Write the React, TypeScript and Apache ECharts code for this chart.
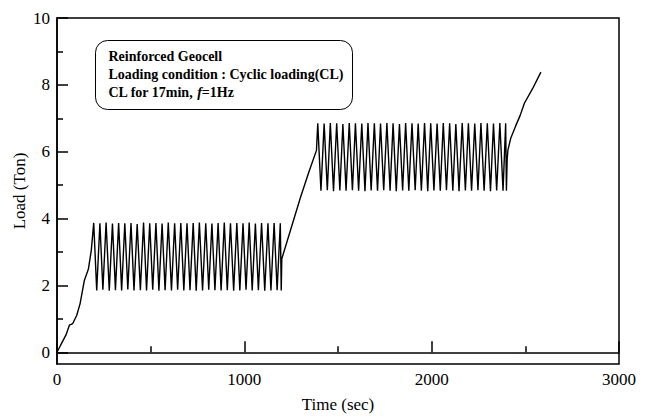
import React, { useEffect, useRef } from "react";
import * as echarts from "echarts";

// Initial monotonic loading up to the first cyclic stage
const ramp1Time = [0, 20, 48, 66, 84, 105, 123, 146, 168, 183];
const ramp1Load = [0, 0.22, 0.52, 0.81, 0.86, 1.1, 1.45, 2.15, 2.5, 3.05];

// First cyclic stage (peak / trough pairs)
const cl1Time = [
  196, 212, 229, 245, 262, 279, 296, 312, 329, 345,
  362, 378, 395, 411, 428, 445, 462, 478, 495, 511,
  528, 544, 561, 577, 594, 611, 628, 644, 661, 677,
  694, 710, 727, 743, 760, 777, 794, 810, 827, 843,
  860, 876, 893, 909, 926, 943, 960, 976, 993, 1009,
  1026, 1042, 1059, 1075, 1092, 1109, 1126, 1142, 1159, 1175,
  1192, 1197,
];
const cl1Load = [
  3.87, 1.85, 3.86, 1.87, 3.88, 1.84, 3.85, 1.86, 3.87, 1.85,
  3.86, 1.88, 3.87, 1.85, 3.84, 1.86, 3.88, 1.85, 3.86, 1.87,
  3.87, 1.84, 3.85, 1.86, 3.88, 1.85, 3.86, 1.87, 3.87, 1.85,
  3.86, 1.86, 3.87, 1.84, 3.88, 1.85, 3.86, 1.87, 3.85, 1.86,
  3.87, 1.85, 3.88, 1.86, 3.86, 1.84, 3.87, 1.85, 3.86, 1.87,
  3.88, 1.85, 3.85, 1.86, 3.87, 1.84, 3.86, 1.85, 3.87, 1.86,
  3.86, 1.85,
];

// Reloading between the two cyclic stages
const ramp2Time = [1200, 1250, 1300, 1345, 1385];
const ramp2Load = [2.8, 3.72, 4.64, 5.4, 6.04];

// Second cyclic stage (peak / trough pairs)
const cl2Time = [
  1392, 1409, 1426, 1443, 1459, 1476, 1493, 1510, 1526, 1543,
  1560, 1577, 1593, 1610, 1627, 1644, 1660, 1677, 1694, 1711,
  1727, 1744, 1761, 1778, 1794, 1811, 1828, 1845, 1861, 1878,
  1895, 1912, 1928, 1945, 1962, 1979, 1995, 2012, 2029, 2046,
  2062, 2079, 2096, 2113, 2129, 2146, 2163, 2180, 2196, 2213,
  2230, 2247, 2263, 2280, 2297, 2314, 2330, 2347, 2364, 2381,
  2395, 2399,
];
const cl2Load = [
  6.85, 4.83, 6.84, 4.85, 6.86, 4.82, 6.85, 4.84, 6.83, 4.83,
  6.86, 4.85, 6.85, 4.83, 6.84, 4.82, 6.86, 4.84, 6.85, 4.83,
  6.84, 4.85, 6.86, 4.83, 6.85, 4.82, 6.83, 4.84, 6.86, 4.83,
  6.85, 4.85, 6.84, 4.83, 6.86, 4.82, 6.85, 4.84, 6.84, 4.83,
  6.86, 4.85, 6.85, 4.83, 6.83, 4.82, 6.86, 4.84, 6.85, 4.83,
  6.84, 4.85, 6.86, 4.83, 6.85, 4.82, 6.84, 4.84, 6.86, 4.83,
  6.85, 4.83,
];

// Final monotonic loading
const ramp3Time = [2403, 2407, 2422, 2449, 2472, 2495, 2540, 2583];
const ramp3Load = [5.76, 6.05, 6.4, 6.78, 7.08, 7.45, 7.9, 8.38];

const yMajorTicks = [0, 2, 4, 6, 8, 10];
const yMinorTicks = [1, 3, 5, 7, 9];

const noteLines = [
  "Reinforced Geocell",
  "Loading condition : Cyclic loading(CL)",
];

const SERIF = '"Liberation Serif", "Times New Roman", serif';

function pairs(t: number[], v: number[]): number[][] {
  return t.map((x, i) => [x, v[i]]);
}

export default function App() {
  const ref = useRef<HTMLDivElement>(null);

  useEffect(() => {
    if (!ref.current) return;
    const chart = echarts.init(ref.current, undefined, { renderer: "svg" });

    const data = [
      ...pairs(ramp1Time, ramp1Load),
      ...pairs(cl1Time, cl1Load),
      ...pairs(ramp2Time, ramp2Load),
      ...pairs(cl2Time, cl2Load),
      ...pairs(ramp3Time, ramp3Load),
    ];

    chart.setOption({
      animation: false,
      backgroundColor: "#fff",
      grid: {
        left: 57,
        right: 30,
        top: 18,
        bottom: 51,
        show: true,
        borderColor: "#000",
        borderWidth: 1.5,
        backgroundColor: "transparent",
      },
      xAxis: {
        type: "value",
        min: 0,
        max: 3000,
        interval: 1000,
        name: "Time (sec)",
        nameLocation: "middle",
        nameGap: 32,
        nameTextStyle: { fontFamily: SERIF, fontSize: 17, color: "#000" },
        axisLine: { show: true, lineStyle: { color: "#000", width: 1.5 } },
        axisTick: { show: true, inside: true, length: 11, lineStyle: { color: "#000", width: 1.5 } },
        minorTick: { show: true, splitNumber: 2, length: 6, lineStyle: { color: "#000", width: 1.5 } },
        axisLabel: {
          fontFamily: SERIF,
          fontSize: 17,
          color: "#000",
          margin: 7,
          formatter: (v: number) => String(v),
        },
        splitLine: { show: false },
      },
      yAxis: [
        {
          type: "value",
          min: -0.35,
          max: 10,
          name: "Load (Ton)",
          nameLocation: "middle",
          nameGap: 29,
          nameMoveOverlap: false,
          nameTextStyle: { fontFamily: SERIF, fontSize: 17, color: "#000" },
          axisLine: { show: true, lineStyle: { color: "#000", width: 1.5 } },
          axisTick: {
            show: true,
            inside: true,
            length: 11,
            customValues: yMajorTicks,
            lineStyle: { color: "#000", width: 1.5 },
          },
          axisLabel: {
            fontFamily: SERIF,
            fontSize: 17,
            color: "#000",
            margin: 7,
            customValues: yMajorTicks,
            formatter: (v: number) => String(v),
          },
          splitLine: { show: false },
        },
        {
          type: "value",
          position: "left",
          min: -0.35,
          max: 10,
          axisLine: { show: false },
          axisTick: {
            show: true,
            inside: true,
            length: 6,
            customValues: yMinorTicks,
            lineStyle: { color: "#000", width: 1.5 },
          },
          axisLabel: { show: false },
          splitLine: { show: false },
        },
      ],
      series: [
        {
          type: "line",
          data,
          showSymbol: false,
          symbol: "none",
          lineStyle: { color: "#000", width: 1.4 },
        },
      ],
      graphic: [
        {
          type: "group",
          left: 95,
          top: 40,
          children: [
            {
              type: "rect",
              shape: { x: 0, y: 0, width: 257, height: 69, r: 12 },
              style: { fill: "#fff", stroke: "#000", lineWidth: 1 },
            },
            {
              type: "text",
              x: 13,
              y: 7,
              style: {
                text: noteLines[0] + "\n" + noteLines[1] + "\n{n|CL for 17min, }{i|f}{n|=1Hz}",
                fontFamily: SERIF,
                fontWeight: "bold",
                fontSize: 14,
                lineHeight: 18,
                fill: "#000",
                rich: {
                  n: { fontFamily: SERIF, fontWeight: "bold", fontSize: 14, lineHeight: 18, fill: "#000" },
                  i: {
                    fontFamily: SERIF,
                    fontWeight: "bold",
                    fontStyle: "italic",
                    fontSize: 14,
                    lineHeight: 18,
                    fill: "#000",
                  },
                },
              },
            },
          ],
        },
      ],
    });

    return () => chart.dispose();
  }, []);

  return (
    <div
      ref={ref}
      style={{ position: "absolute", left: 0, top: 0, width: 649, height: 418 }}
    />
  );
}
